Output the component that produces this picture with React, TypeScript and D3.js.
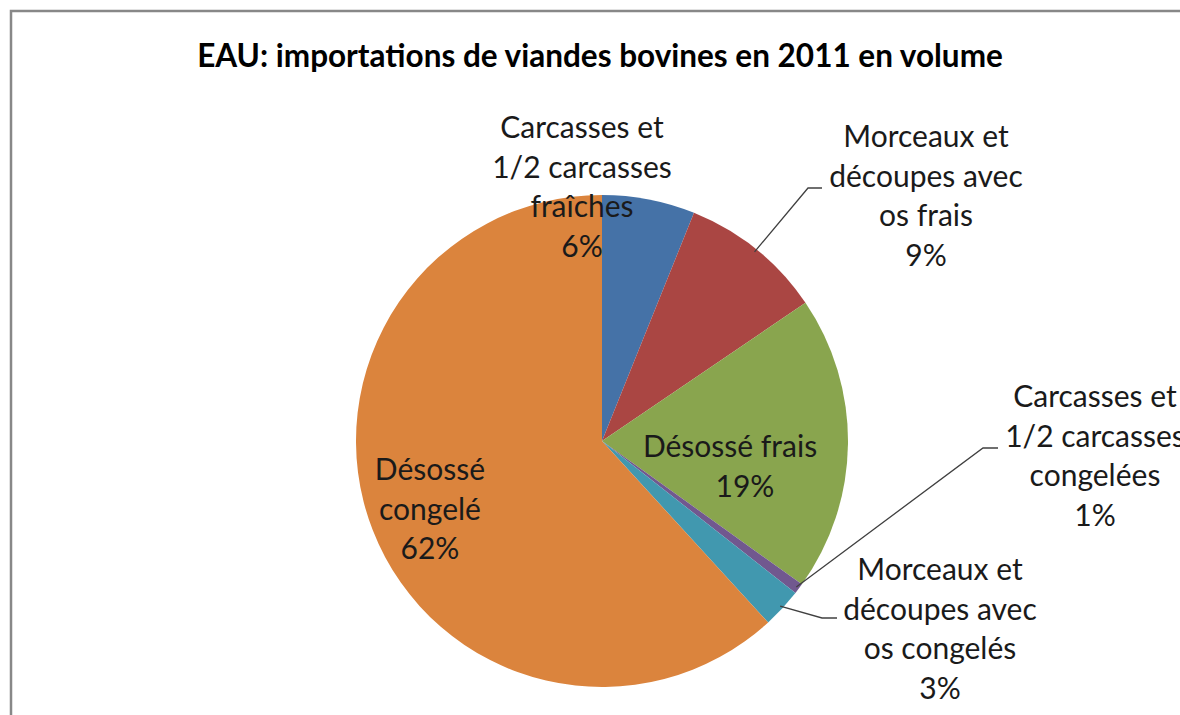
import React from "react";
import * as d3 from "d3";

const categories = [
  "Carcasses et 1/2 carcasses fraîches",
  "Morceaux et découpes avec os frais",
  "Désossé frais",
  "Carcasses et 1/2 carcasses congelées",
  "Morceaux et découpes avec os congelés",
  "Désossé congelé",
];
const values = [6.1, 9.4, 19.4, 0.7, 2.6, 61.8];
const percentLabels = ["6%", "9%", "19%", "1%", "3%", "62%"];
const labelLines = [
  ["Carcasses et", "1/2 carcasses", "fraîches", "6%"],
  ["Morceaux et", "découpes avec", "os frais", "9%"],
  ["Désossé frais", "19%"],
  ["Carcasses et", "1/2 carcasses", "congelées", "1%"],
  ["Morceaux et", "découpes avec", "os congelés", "3%"],
  ["Désossé", "congelé", "62%"],
];
const colors = ["#4572A7", "#AA4643", "#89A54E", "#71588F", "#4198AF", "#DB843D"];

// layout (label anchors: center x, first baseline y) and leader elbows
const cx = 602;
const cy = 441;
const radius = 246;
const labelLayout = [
  { x: 582, y: 138, leader: null },
  { x: 926, y: 147, leader: { ex: 808, ey: 188, hx: 822 } },
  { x: 738, y: 457, leader: null, lineXs: [730, 745] },
  { x: 1095, y: 407, leader: { ex: 983, ey: 448, hx: 998 } },
  { x: 940, y: 580, leader: { ex: 822, ey: 618, hx: 837 } },
  { x: 430, y: 480, leader: null },
];
const lineH = 39.5;
const font = "Lato, 'Open Sans', sans-serif";

export default function App() {
  const pie = d3.pie<number>().sort(null).value((d) => d).startAngle(0).endAngle(2 * Math.PI);
  const arcs = pie(values);
  const arcGen = d3.arc<d3.PieArcDatum<number>>().innerRadius(0).outerRadius(radius);

  return (
    <svg width={1180} height={715} style={{ position: "absolute", left: 0, top: 0 }}>
      <rect x={0} y={0} width={1180} height={715} fill="#fff" />
      <rect x={11} y={11} width={1200} height={760} fill="#fff" stroke="#888" strokeWidth={2.5} />
      <text
        x={600}
        y={67}
        textAnchor="middle"
        fontFamily={font}
        fontWeight="bold"
        fontSize={31.5}
        fill="#000"
      >
        EAU: importations de viandes bovines en 2011 en volume
      </text>
      <g transform={`translate(${cx},${cy})`}>
        {arcs.map((a, i) => (
          <path key={categories[i]} d={arcGen(a) || ""} fill={colors[i]} />
        ))}
      </g>
      {arcs.map((a, i) => {
        const L = labelLayout[i];
        if (!L.leader) return null;
        const mid = (a.startAngle + a.endAngle) / 2;
        const r0 = radius - 3;
        const sx = cx + Math.sin(mid) * r0;
        const sy = cy - Math.cos(mid) * r0;
        return (
          <polyline
            key={"l" + i}
            points={`${sx},${sy} ${L.leader.ex},${L.leader.ey} ${L.leader.hx},${L.leader.ey}`}
            fill="none"
            stroke="#404040"
            strokeWidth={1.3}
          />
        );
      })}
      {labelLines.map((lines, i) => {
        const L = labelLayout[i];
        return (
          <g key={"t" + i}>
            {lines.map((s, j) => (
              <text
                key={j}
                x={L.lineXs ? L.lineXs[j] : L.x}
                y={L.y + j * lineH}
                textAnchor="middle"
                fontFamily={font}
                fontSize={30}
                fill="#1a1a1a"
              >
                {s}
              </text>
            ))}
          </g>
        );
      })}
    </svg>
  );
}
